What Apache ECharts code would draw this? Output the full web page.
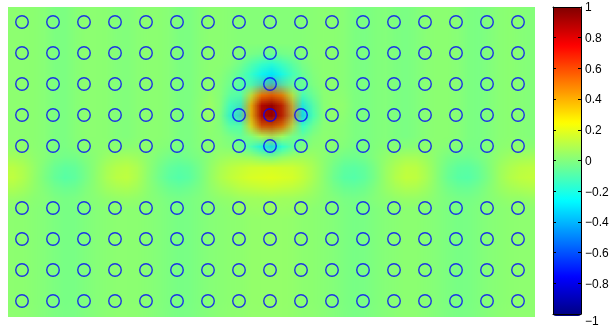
<!DOCTYPE html>
<html>
<head>
<meta charset="utf-8">
<script src="https://cdn.jsdelivr.net/npm/echarts@6/dist/echarts.min.js"></script>
<style>
html,body{margin:0;padding:0;background:#fff;}
#stage{position:relative;width:616px;height:328px;overflow:hidden;background:#fff;}
#fieldBack{position:absolute;left:8px;top:7px;width:527px;height:310px;background:#86ff79;}
/* the sampled field is drawn one pixel per cell, then stretched with smooth filtering */
#field{position:absolute;left:8px;top:7px;width:51px;height:30px;transform:scale(10.33333,10.33333);transform-origin:0 0;image-rendering:auto;}
#main{position:absolute;left:0;top:0;width:616px;height:328px;}
</style>
</head>
<body>
<div id="stage">
  <div id="fieldBack"></div>
  <div id="field"></div>
  <div id="main"></div>
</div>
<script>
// Field samples: 30 rows (top to bottom) x 51 columns (left to right)
const fieldRows = [
  [.03,.03,.03,.02,0,-.01,.01,.03,.03,.03,.01,0,.02,.03,.03,.02,0,-.01,.01,.03,.03,.02,.01,.01,.01,.01,.01,.01,.01,.02,.03,.03,.02,0,-.01,0,.01,0,-.01,0,.02,.03,.03,.02,0,-.01,0,.02,.03,.02,.01],
  [.03,.03,.03,.02,0,-.01,.01,.03,.03,.03,.01,0,.02,.03,.03,.02,0,-.01,.01,.03,.03,.02,.01,.01,.01,.01,.01,.01,.01,.02,.03,.03,.02,0,-.01,0,.01,0,-.01,0,.02,.03,.03,.02,0,-.01,0,.02,.03,.02,.01],
  [.03,.03,.03,.02,0,-.01,.01,.03,.03,.03,.01,0,.02,.03,.03,.02,0,-.01,.01,.03,.03,.02,.01,.01,.01,.01,.01,.01,.01,.02,.03,.03,.02,0,-.01,0,.01,0,-.01,0,.02,.03,.03,.02,0,-.01,0,.02,.03,.02,.01],
  [.03,.03,.03,.02,0,-.01,.01,.03,.03,.03,.01,0,.02,.03,.03,.02,0,-.01,.01,.03,.03,.02,.01,.01,.01,.01,.01,.01,.01,.02,.03,.03,.02,0,-.01,0,.01,0,-.01,0,.02,.03,.03,.02,0,-.01,0,.02,.03,.02,.01],
  [.03,.03,.03,.02,0,-.01,.01,.03,.03,.03,.01,0,.02,.03,.03,.02,0,-.01,.01,.03,.03,.02,.01,.01,.01,.01,.01,.01,.01,.02,.03,.03,.02,0,-.01,0,.01,0,-.01,0,.02,.03,.03,.02,0,-.01,0,.02,.03,.02,.01],
  [.03,.03,.03,.02,0,-.01,.01,.03,.03,.03,.01,0,.02,.03,.03,.02,0,-.01,.01,.03, .03,.02,0,-.05,-.1,-.14,-.1,-.05,0,.02, .03,.03,.02,0,-.01,0,.01,0,-.01,0,.02,.03,.03,.02,0,-.01,0,.02,.03,.02,.01],
  [.03,.03,.03,.02,0,-.01,.01,.03,.03,.03,.01,0,.02,.03,.03,.02,0,-.01,.01,.03, .03,0,-.05,-.12,-.2,-.28,-.2,-.12,-.05,0, .03,.03,.02,0,-.01,0,.01,0,-.01,0,.02,.03,.03,.02,0,-.01,0,.02,.03,.02,.01],
  [.03,.03,.03,.02,0,-.01,.01,.03,.03,.03,.01,0,.02,.03,.03,.02,0,-.01,.01,.03, .02,-.02,-.06,-.14,-.28,-.4,-.28,-.14,-.06,0, .03,.03,.02,0,-.01,0,.01,0,-.01,0,.02,.03,.03,.02,0,-.01,0,.02,.03,.02,.01],
  [.03,.03,.03,.02,0,-.01,.01,.03,.03,.03,.01,0,.02,.03,.03,.02,0,-.01,.01,.04, .02,-.04,-.1,.05,.42,.48,.45,.15,-.1,-.03, .03,.03,.02,0,-.01,0,.01,0,-.01,0,.02,.03,.03,.02,0,-.01,0,.02,.03,.02,.01],
  [.03,.03,.03,.02,0,-.01,.01,.03,.03,.03,.01,0,.02,.03,.03,.02,0,-.01,.01,.06, .04,-.08,-.22,.3,.88,.95,.9,.42,-.22,-.08, .02,.04,.04,0,-.01,0,.01,0,-.01,0,.02,.03,.03,.02,0,-.01,0,.02,.03,.02,.01],
  [.03,.03,.03,.02,0,-.01,.01,.03,.03,.03,.01,0,.02,.03,.03,.02,0,-.01,.01,.07, .04,-.15,-.4,.35,.92,1,.95,.48,-.4,-.15, .01,.04,.04,0,-.01,0,.01,0,-.01,0,.02,.03,.03,.02,0,-.01,0,.02,.03,.02,.01],
  [.03,.03,.03,.02,0,-.01,.01,.03,.03,.03,.01,0,.02,.03,.03,.02,0,-.01,.01,.04, .03,-.08,-.22,.25,.85,.92,.88,.4,-.22,-.08, .02,.03,.02,0,-.01,0,.01,0,-.01,0,.02,.03,.03,.02,0,-.01,0,.02,.03,.02,.01],
  [.03,.03,.03,.02,0,-.01,.01,.03,.03,.03,.01,0,.02,.03,.03,.02,0,-.01,.01,.03, .02,0,-.06,.02,.25,.3,.25,.06,-.06,0, .03,.03,.02,0,-.01,0,.01,0,-.01,0,.02,.03,.03,.02,0,-.01,0,.02,.03,.02,.01],
  [.03,.03,.03,.02,0,-.01,.01,.03,.03,.03,.01,0,.02,.03,.03,.02,0,-.01,.01,.03, .02,0,-.04,-.12,-.25,-.4,-.25,-.12,-.04,.01, .03,.03,.02,0,-.01,0,.01,0,-.01,0,.02,.03,.03,.02,0,-.01,0,.02,.03,.02,.01],
  [.06,.05,.03,.02,0,-.01,-.01,.01,.02,.04,.05,.06,.05,.03,.01,-.01,-.02,-.01,0,.02, .04,.05,.04,.02,-.03,-.1,-.03,.02,.04,.05, .03,.01,-.01,-.02,-.01,.01,.03,.05,.06,.06,.05,.02,0,-.01,-.02,-.01,.01,.03,.05,.05,.06],
  [.11,.09,.05,.01,-.03,-.05,-.05,-.01,.02,.07,.09,.11,.09,.04,0,-.04,-.06,-.05,-.02,.03,.07,.10,.12,.14,.14,.15,.14,.14,.12,.08,.04,-.01,-.05,-.06,-.05,-.01,.04,.08,.11,.11,.08,.03,-.02,-.05,-.06,-.04,0,.05,.08,.10,.11],
  [.14,.11,.05,0,-.05,-.09,-.08,-.03,.02,.08,.12,.14,.11,.04,-.02,-.07,-.1,-.09,-.04,.03,.09,.13,.16,.18,.19,.2,.19,.18,.15,.1,.04,-.03,-.08,-.1,-.08,-.03,.04,.1,.14,.14,.1,.03,-.04,-.08,-.1,-.07,-.02,.05,.1,.13,.14],
  [.11,.09,.05,.01,-.03,-.05,-.05,-.01,.02,.07,.09,.11,.09,.04,0,-.04,-.06,-.05,-.02,.03,.07,.10, .13,.15,.16,.17,.16,.15,.13, .08,.04,-.01,-.05,-.06,-.05,-.01,.04,.08,.11,.11,.08,.03,-.02,-.05,-.06,-.04,0,.05,.08,.10,.11],
  [.06,.05,.03,.02,0,-.01,-.01,.01,.02,.04,.05,.06,.05,.03,.01,-.01,-.02,-.01,0,.02,.04,.05,.06,.07,.07,.08,.07,.07,.06,.05,.03,.01,-.01,-.02,-.01,.01,.03,.05,.06,.06,.05,.02,0,-.01,-.02,-.01,.01,.03,.05,.05,.06],
  [.03,.03,.02,.01,0,-.01,-.01,0,.01,.02,.03,.03,.03,.02,.01,0,-.01,-.01,0,.01,.02,.03, .05,.06,.06,.06,.06,.06,.05, .03,.02,.01,0,-.01,-.01,0,.01,.02,.03,.03,.02,.01,0,-.01,-.01,0,.01,.02,.03,.03,.03],
  [.03,.03,.02,.01,0,-.01,-.01,0,.01,.02,.03,.03,.03,.02,.01,0,-.01,-.01,0,.01,.02,.03,.03,.04,.04,.04,.04,.04,.03,.03,.02,.01,0,-.01,-.01,0,.01,.02,.03,.03,.02,.01,0,-.01,-.01,0,.01,.02,.03,.03,.03],
  [.03,.03,.02,.01,0,-.01,-.01,0,.01,.02,.03,.03,.03,.02,.01,0,-.01,-.01,0,.01,.02,.03,.03,.04,.04,.04,.04,.04,.03,.03,.02,.01,0,-.01,-.01,0,.01,.02,.03,.03,.02,.01,0,-.01,-.01,0,.01,.02,.03,.03,.03],
  [.03,.03,.02,.01,0,-.01,-.01,0,.01,.02,.03,.03,.03,.02,.01,0,-.01,-.01,0,.01,.02,.03,.03,.04,.04,.04,.04,.04,.03,.03,.02,.01,0,-.01,-.01,0,.01,.02,.03,.03,.02,.01,0,-.01,-.01,0,.01,.02,.03,.03,.03],
  [.03,.03,.02,.01,0,-.01,-.01,0,.01,.02,.03,.03,.03,.02,.01,0,-.01,-.01,0,.01,.02,.03,.03,.04,.04,.04,.04,.04,.03,.03,.02,.01,0,-.01,-.01,0,.01,.02,.03,.03,.02,.01,0,-.01,-.01,0,.01,.02,.03,.03,.03],
  [.03,.03,.02,.01,0,-.01,-.01,0,.01,.02,.03,.03,.03,.02,.01,0,-.01,-.01,0,.01,.02,.03,.03,.04,.04,.04,.04,.04,.03,.03,.02,.01,0,-.01,-.01,0,.01,.02,.03,.03,.02,.01,0,-.01,-.01,0,.01,.02,.03,.03,.03],
  [.03,.03,.02,.01,0,-.01,-.01,0,.01,.02,.03,.03,.03,.02,.01,0,-.01,-.01,0,.01,.02,.03,.03,.04,.04,.04,.04,.04,.03,.03,.02,.01,0,-.01,-.01,0,.01,.02,.03,.03,.02,.01,0,-.01,-.01,0,.01,.02,.03,.03,.03],
  [.03,.03,.02,.01,0,-.01,-.01,0,.01,.02,.03,.03,.03,.02,.01,0,-.01,-.01,0,.01,.02,.03,.03,.04,.04,.04,.04,.04,.03,.03,.02,.01,0,-.01,-.01,0,.01,.02,.03,.03,.02,.01,0,-.01,-.01,0,.01,.02,.03,.03,.03],
  [.03,.03,.02,.01,0,-.01,-.01,0,.01,.02,.03,.03,.03,.02,.01,0,-.01,-.01,0,.01,.02,.03,.03,.04,.04,.04,.04,.04,.03,.03,.02,.01,0,-.01,-.01,0,.01,.02,.03,.03,.02,.01,0,-.01,-.01,0,.01,.02,.03,.03,.03],
  [.03,.03,.02,.01,0,-.01,-.01,0,.01,.02,.03,.03,.03,.02,.01,0,-.01,-.01,0,.01,.02,.03,.03,.04,.04,.04,.04,.04,.03,.03,.02,.01,0,-.01,-.01,0,.01,.02,.03,.03,.02,.01,0,-.01,-.01,0,.01,.02,.03,.03,.03],
  [.03,.03,.02,.01,0,-.01,-.01,0,.01,.02,.03,.03,.03,.02,.01,0,-.01,-.01,0,.01,.02,.03,.03,.04,.04,.04,.04,.04,.03,.03,.02,.01,0,-.01,-.01,0,.01,.02,.03,.03,.02,.01,0,-.01,-.01,0,.01,.02,.03,.03,.03]
];

// Sensor positions (grid column / row numbers); row 6 has no sensors
const sensorCols = [1,2,3,4,5,6,7,8,9,10,11,12,13,14,15,16,17];
const sensorRows = [1,2,3,4,5,7,8,9,10];

// Colour scale limits and colorbar ticks
const scaleMin = -1;
const scaleMax = 1;
const tickStep = 0.2;

// Jet colormap stops, evenly spaced from scaleMin to scaleMax
const jetColors = ['#000080','#0000ff','#0080ff','#00ffff','#80ff80','#ffff00','#ff8000','#ff0000','#800000'];

const labelFont = '"Liberation Sans", Arial, Helvetica, sans-serif';

// ---- field layer ----
const fieldCells = [];
fieldRows.forEach(function (row, j) {
  row.forEach(function (v, i) { fieldCells.push([i, j, v]); });
});
const colCats = fieldRows[0].map(function (_, i) { return i; });
const rowCats = fieldRows.map(function (_, j) { return j; });

const fieldChart = echarts.init(document.getElementById('field'), null, {renderer: 'canvas', devicePixelRatio: 1});
fieldChart.setOption({
  animation: false,
  grid: {left: 0, right: 0, top: 0, bottom: 0},
  xAxis: {type: 'category', data: colCats, show: false},
  yAxis: {type: 'category', data: rowCats, inverse: true, show: false},
  visualMap: {type: 'continuous', min: scaleMin, max: scaleMax, show: false, dimension: 2, inRange: {color: jetColors}},
  series: [{type: 'heatmap', data: fieldCells, silent: true, emphasis: {disabled: true}}]
});

// ---- sensors and colorbar ----
const sensorData = [];
sensorRows.forEach(function (r) {
  sensorCols.forEach(function (c) { sensorData.push([c, r]); });
});

const boxLine = {onZero: false, lineStyle: {color: '#000', width: 1}};

const mainChart = echarts.init(document.getElementById('main'), null, {renderer: 'canvas'});
mainChart.setOption({
  animation: false,
  grid: [
    {left: 6.5, top: 6.5, width: 527, height: 310},
    {left: 553, top: 7, width: 28, height: 309}
  ],
  xAxis: [
    {gridIndex: 0, type: 'value', min: 0.5, max: 17.5, show: false},
    {gridIndex: 1, type: 'value', min: 0, max: 1, position: 'bottom', z: 10,
      axisLine: boxLine, axisTick: {show: false}, axisLabel: {show: false}, splitLine: {show: false}},
    {gridIndex: 1, type: 'value', min: 0, max: 1, position: 'top', z: 10,
      axisLine: boxLine, axisTick: {show: false}, axisLabel: {show: false}, splitLine: {show: false}}
  ],
  yAxis: [
    {gridIndex: 0, type: 'value', min: 0.5, max: 10.5, inverse: true, show: false},
    {gridIndex: 1, type: 'value', min: scaleMin, max: scaleMax, interval: tickStep, position: 'right', z: 10,
      axisLine: boxLine,
      axisTick: {inside: true, length: 3, lineStyle: {color: '#000', width: 1}},
      splitLine: {show: false},
      axisLabel: {
        show: true, inside: false, margin: 4, color: '#000', fontSize: 12, fontFamily: labelFont,
        showMinLabel: true, showMaxLabel: true, padding: [2, 0, 0, 0],
        formatter: function (v) {
          const s = String(Math.round(v * 10) / 10).replace('-', '\u2212');
          return v <= scaleMin + 1e-6 ? '{low|' + s + '}' : s;
        },
        rich: {low: {padding: [14, 0, 0, 0], color: '#000', fontSize: 12, fontFamily: labelFont}}
      }},
    {gridIndex: 1, type: 'value', min: scaleMin, max: scaleMax, interval: tickStep, position: 'left', z: 10,
      axisLine: boxLine,
      axisTick: {inside: true, length: 3, lineStyle: {color: '#000', width: 1}},
      splitLine: {show: false}, axisLabel: {show: false}}
  ],
  visualMap: {
    type: 'continuous', seriesIndex: [], min: scaleMin, max: scaleMax,
    show: true, calculable: false, hoverLink: false, realtime: false,
    left: 553, top: 7, itemWidth: 28, itemHeight: 309, padding: 0, z: 2,
    inRange: {color: jetColors}
  },
  series: [{
    type: 'scatter', xAxisIndex: 0, yAxisIndex: 0, data: sensorData,
    symbol: 'circle', symbolSize: 12.5, silent: true,
    itemStyle: {color: 'rgba(0,0,0,0)', borderColor: '#0000ff', borderWidth: 1.4},
    emphasis: {disabled: true}
  }]
});
</script>
</body>
</html>
